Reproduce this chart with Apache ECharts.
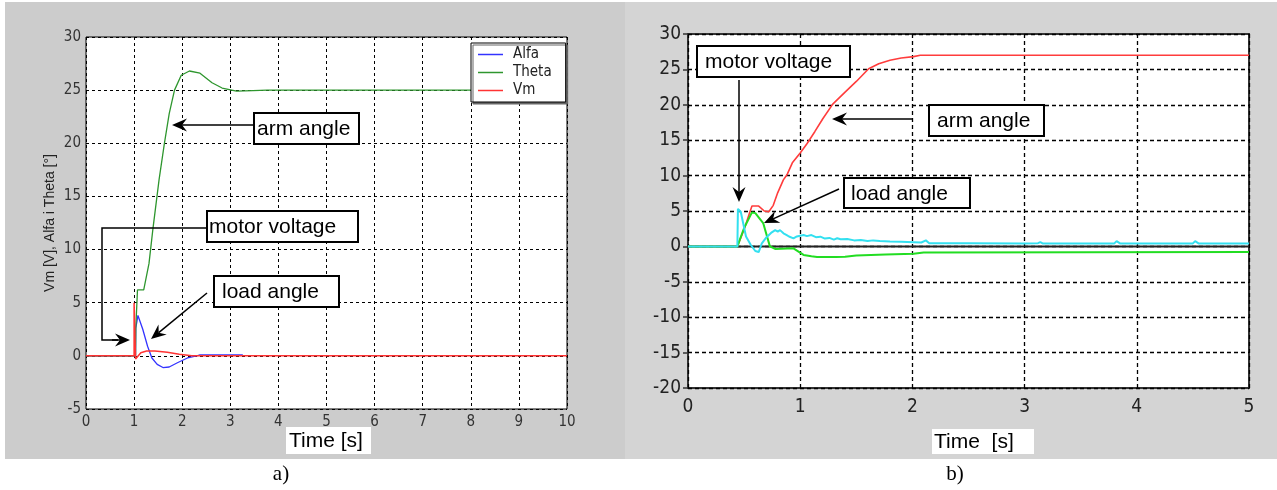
<!DOCTYPE html>
<html>
<head>
<meta charset="utf-8">
<script src="https://cdn.jsdelivr.net/npm/echarts@6/dist/echarts.min.js"></script>
<style>
  html, body { margin: 0; padding: 0; background: #fff; }
  #main { width: 1277px; height: 490px; }
</style>
</head>
<body>
<div id="main"></div>
<script>
// a) simulation: time [s], value
var alfaA = [[0,0],[1.03,0],[1.035,2.6],[1.08,3.8],[1.18,2.5],[1.28,0.9],[1.37,-0.2],[1.48,-0.8],[1.6,-1.1],[1.73,-1.05],[1.9,-0.65],[2.11,-0.2],[2.32,0.03],[2.37,0.1],[3.26,0.1]];
var thetaA = [[0,0],[1.03,0],[1.035,2.6],[1.07,6.2],[1.2,6.2],[1.31,8.7],[1.39,11.9],[1.52,16.6],[1.63,20],[1.73,22.8],[1.84,25],[1.98,26.4],[2.15,26.8],[2.37,26.6],[2.62,25.7],[2.83,25.2],[3.13,24.9],[3.47,24.95],[3.77,25],[10,25]];
var vmA = [[0,0],[1.0,0],[1.0,5],[1.03,5],[1.03,-0.3],[1.07,-0.3],[1.14,0.3],[1.26,0.45],[1.43,0.45],[1.69,0.35],[1.94,0.15],[2.2,0],[10,0]];

// b) measurement: time [s], value
var armB = [[0,0],[0.44,0],[0.5,2.4],[0.55,4.8],[0.57,5.7],[0.63,5.7],[0.68,5.0],[0.72,4.9],[0.76,5.8],[0.8,7.6],[0.85,9.4],[0.885,10.2],[0.93,11.8],[1.0,13.2],[1.06,14.5],[1.13,16.2],[1.2,18.0],[1.29,20.1],[1.4,21.8],[1.5,23.3],[1.61,25.1],[1.7,25.8],[1.8,26.3],[1.9,26.6],[2.01,26.8],[2.07,27.0],[5,27.0]];
var loadB = [[0,0],[0.44,0],[0.5,2.6],[0.57,4.8],[0.6,4.7],[0.67,3.3],[0.73,0],[0.78,-0.37],[0.94,-0.27],[1.03,-1.2],[1.1,-1.4],[1.15,-1.5],[1.32,-1.5],[1.4,-1.45],[1.5,-1.3],[1.76,-1.15],[2.01,-1.05],[2.1,-0.85],[5,-0.8]];
var voltB = [[0,0],[0.44,0],[0.445,5.3],[0.47,4.9],[0.517,1.4],[0.56,0.2],[0.6,-0.65],[0.63,-0.8],[0.658,0.44],[0.7,1.3],[0.74,1.9],[0.777,2.3],[0.8,2.1],[0.82,2.3],[0.851,1.85],[0.88,1.6],[0.9,1.4],[0.94,1.14],[0.97,1.4],[1.0,1.5],[1.03,1.6],[1.06,1.45],[1.1,1.6],[1.14,1.3],[1.18,1.37],[1.22,1.1],[1.26,1.2],[1.3,0.95],[1.33,1.15],[1.36,1.0],[1.42,1.05],[1.48,0.85],[1.54,0.9],[1.6,0.75],[1.65,0.85],[1.71,0.76],[1.8,0.68],[1.9,0.65],[2.01,0.6],[2.08,0.55],[2.12,0.85],[2.15,0.45],[2.5,0.45],[3.0,0.42],[3.12,0.45],[3.14,0.6],[3.16,0.42],[3.8,0.42],[3.82,0.75],[3.85,0.42],[4.5,0.42],[4.52,0.75],[4.55,0.42],[5,0.42]];
var zeroB = [[0,0],[5,0]];

var yTicksA = [-5, 30, 5];
var yTicksB = [-20, 30, 5];

var narrow = '"Liberation Sans Narrow", "Arial Narrow", "DejaVu Sans Condensed", "Liberation Sans", sans-serif';

function arrow(x1, y1, x2, y2, lw) {
    var dx = x2 - x1, dy = y2 - y1;
    var len = Math.sqrt(dx * dx + dy * dy);
    var ux = dx / len, uy = dy / len, px = -uy, py = ux;
    var L = 15, W = 6.5, N = 5;
    var bx = x2 - ux * L, by = y2 - uy * L;
    var nx = x2 - ux * (L - N), ny = y2 - uy * (L - N);
    return [
        { type: 'line', z: 100, shape: { x1: x1, y1: y1, x2: nx, y2: ny }, style: { stroke: '#000', lineWidth: lw || 1.5 } },
        { type: 'polygon', z: 100, shape: { points: [[x2, y2], [bx + px * W, by + py * W], [nx, ny], [bx - px * W, by - py * W]] }, style: { fill: '#000' } }
    ];
}

function box(x, y, w, h, text, tx) {
    return [
        { type: 'rect', z: 100, shape: { x: x, y: y, width: w, height: h }, style: { fill: '#fff', stroke: '#000', lineWidth: 2 } },
        { type: 'text', z: 101, x: tx, y: y + h / 2 + 1, style: { text: text, font: '21px "Liberation Sans"', fill: '#000', textVerticalAlign: 'middle', verticalAlign: 'middle' } }
    ];
}

function label(x, y, text, font) {
    return { type: 'text', z: 101, x: x, y: y, style: { text: text, font: font, fill: '#000', textAlign: 'center', align: 'center', textVerticalAlign: 'middle', verticalAlign: 'middle' } };
}

var graphics = [
    { type: 'rect', z: -10, shape: { x: 5, y: 2, width: 620, height: 457 }, style: { fill: '#cccccc' } },
    { type: 'rect', z: -10, shape: { x: 625, y: 2, width: 652, height: 457 }, style: { fill: '#d4d4d4' } },
    // x axis titles
    { type: 'rect', z: 50, shape: { x: 286, y: 427, width: 85, height: 27 }, style: { fill: '#fff' } },
    { type: 'text', z: 51, x: 289, y: 441, style: { text: 'Time [s]', font: '21px "Liberation Sans"', fill: '#000', textVerticalAlign: 'middle', verticalAlign: 'middle' } },
    { type: 'rect', z: 50, shape: { x: 932, y: 429, width: 102, height: 25 }, style: { fill: '#fff' } },
    { type: 'text', z: 51, x: 934, y: 442, style: { text: 'Time  [s]', font: '21px "Liberation Sans"', fill: '#000', textVerticalAlign: 'middle', verticalAlign: 'middle' } },
    label(281, 474, 'a)', '21px "Liberation Serif"'),
    label(955, 474, 'b)', '21px "Liberation Serif"')
];

// annotations, panel a)
graphics = graphics.concat(box(254, 113, 105, 31, 'arm angle', 257));
graphics = graphics.concat(arrow(253, 125, 172, 125));
graphics = graphics.concat(box(207, 211, 151, 31, 'motor voltage', 209));
graphics.push({ type: 'polyline', z: 100, shape: { points: [[206, 228], [102, 228], [102, 340], [118, 340]] }, style: { stroke: '#000', lineWidth: 1.5, fill: null } });
graphics = graphics.concat(arrow(112, 340, 130, 340));
graphics = graphics.concat(box(214, 276, 125, 31, 'load angle', 222));
graphics = graphics.concat(arrow(207, 293, 151, 339));

// annotations, panel b)
graphics = graphics.concat(box(697, 46, 153, 31, 'motor voltage', 705));
graphics = graphics.concat(arrow(739, 80, 739, 202));
graphics = graphics.concat(box(929, 105, 115, 31, 'arm angle', 937));
graphics = graphics.concat(arrow(913, 119, 832, 119));
graphics = graphics.concat(box(844, 178, 126, 30, 'load angle', 851));
graphics = graphics.concat(arrow(839, 189, 764, 223));

var dashA = { show: true, lineStyle: { color: '#000', type: [3, 3], width: 1 } };
var dashB = { show: true, lineStyle: { color: '#000', type: [4, 3], width: 1.3 } };

var chart = echarts.init(document.getElementById('main'));
var option = {
    animation: false,
    backgroundColor: '#fff',
    graphic: graphics,
    grid: [
        { left: 86, top: 37, width: 481, height: 372, show: true, backgroundColor: '#fff', borderColor: '#000', borderWidth: 1 },
        { left: 688, top: 34, width: 561, height: 354, show: true, backgroundColor: '#fff', borderColor: '#333', borderWidth: 2 }
    ],
    legend: {
        data: ['Alfa', 'Theta', 'Vm'],
        orient: 'vertical',
        left: 471, top: 43,
        icon: 'rect',
        itemWidth: 25, itemHeight: 1.5, itemGap: 3,
        padding: [4, 14, 4, 7],
        backgroundColor: '#fff',
        borderColor: '#000', borderWidth: 1,
        shadowColor: '#666', shadowOffsetX: 2, shadowOffsetY: 2, shadowBlur: 0,
        textStyle: { fontFamily: narrow, fontSize: 15, color: '#222', padding: [0, 0, 0, 5] }
    },
    xAxis: [
        { type: 'value', gridIndex: 0, min: 0, max: 10, interval: 1,
          axisLine: { show: false }, axisTick: { show: false }, splitLine: dashA,
          axisLabel: { margin: 6, fontFamily: narrow, fontSize: 15, color: '#333' } },
        { type: 'value', gridIndex: 1, min: 0, max: 5, interval: 1,
          axisLine: { show: false }, axisTick: { show: false }, splitLine: dashB,
          axisLabel: { margin: 10, fontFamily: narrow, fontSize: 19, color: '#222' } }
    ],
    yAxis: [
        { type: 'value', gridIndex: 0, min: yTicksA[0], max: yTicksA[1], interval: yTicksA[2],
          axisLine: { show: false }, axisTick: { show: false }, splitLine: dashA,
          name: 'Vm [V], Alfa i Theta [°]', nameLocation: 'middle', nameGap: 29, nameRotate: 90,
          nameTextStyle: { fontFamily: 'Liberation Sans', fontSize: 14, color: '#222' },
          axisLabel: { margin: 5, fontFamily: narrow, fontSize: 15, color: '#333' } },
        { type: 'value', gridIndex: 1, min: yTicksB[0], max: yTicksB[1], interval: yTicksB[2],
          axisLine: { show: false }, axisTick: { show: true, length: 5, lineStyle: { color: '#333', width: 1.5 } }, splitLine: dashB,
          axisLabel: { margin: 7, fontFamily: narrow, fontSize: 19, color: '#222' } }
    ],
    series: [
        { name: 'Alfa', type: 'line', xAxisIndex: 0, yAxisIndex: 0, data: alfaA, symbol: 'none', color: '#3333ff', lineStyle: { width: 1.3 } },
        { name: 'Theta', type: 'line', xAxisIndex: 0, yAxisIndex: 0, data: thetaA, symbol: 'none', color: '#2e962e', lineStyle: { width: 1.3 } },
        { name: 'Vm', type: 'line', xAxisIndex: 0, yAxisIndex: 0, data: vmA, symbol: 'none', color: '#ff3333', lineStyle: { width: 1.5 } },
        { name: 'zero', type: 'line', xAxisIndex: 1, yAxisIndex: 1, data: zeroB, symbol: 'none', color: '#222', lineStyle: { width: 2 } },
        { name: 'arm', type: 'line', xAxisIndex: 1, yAxisIndex: 1, data: armB, symbol: 'none', color: '#ff3c3c', lineStyle: { width: 1.6 } },
        { name: 'load', type: 'line', xAxisIndex: 1, yAxisIndex: 1, data: loadB, symbol: 'none', color: '#22dd22', lineStyle: { width: 2 } },
        { name: 'voltage', type: 'line', xAxisIndex: 1, yAxisIndex: 1, data: voltB, symbol: 'none', color: '#33e0f0', lineStyle: { width: 2 } }
    ]
};
chart.setOption(option);
</script>
</body>
</html>
